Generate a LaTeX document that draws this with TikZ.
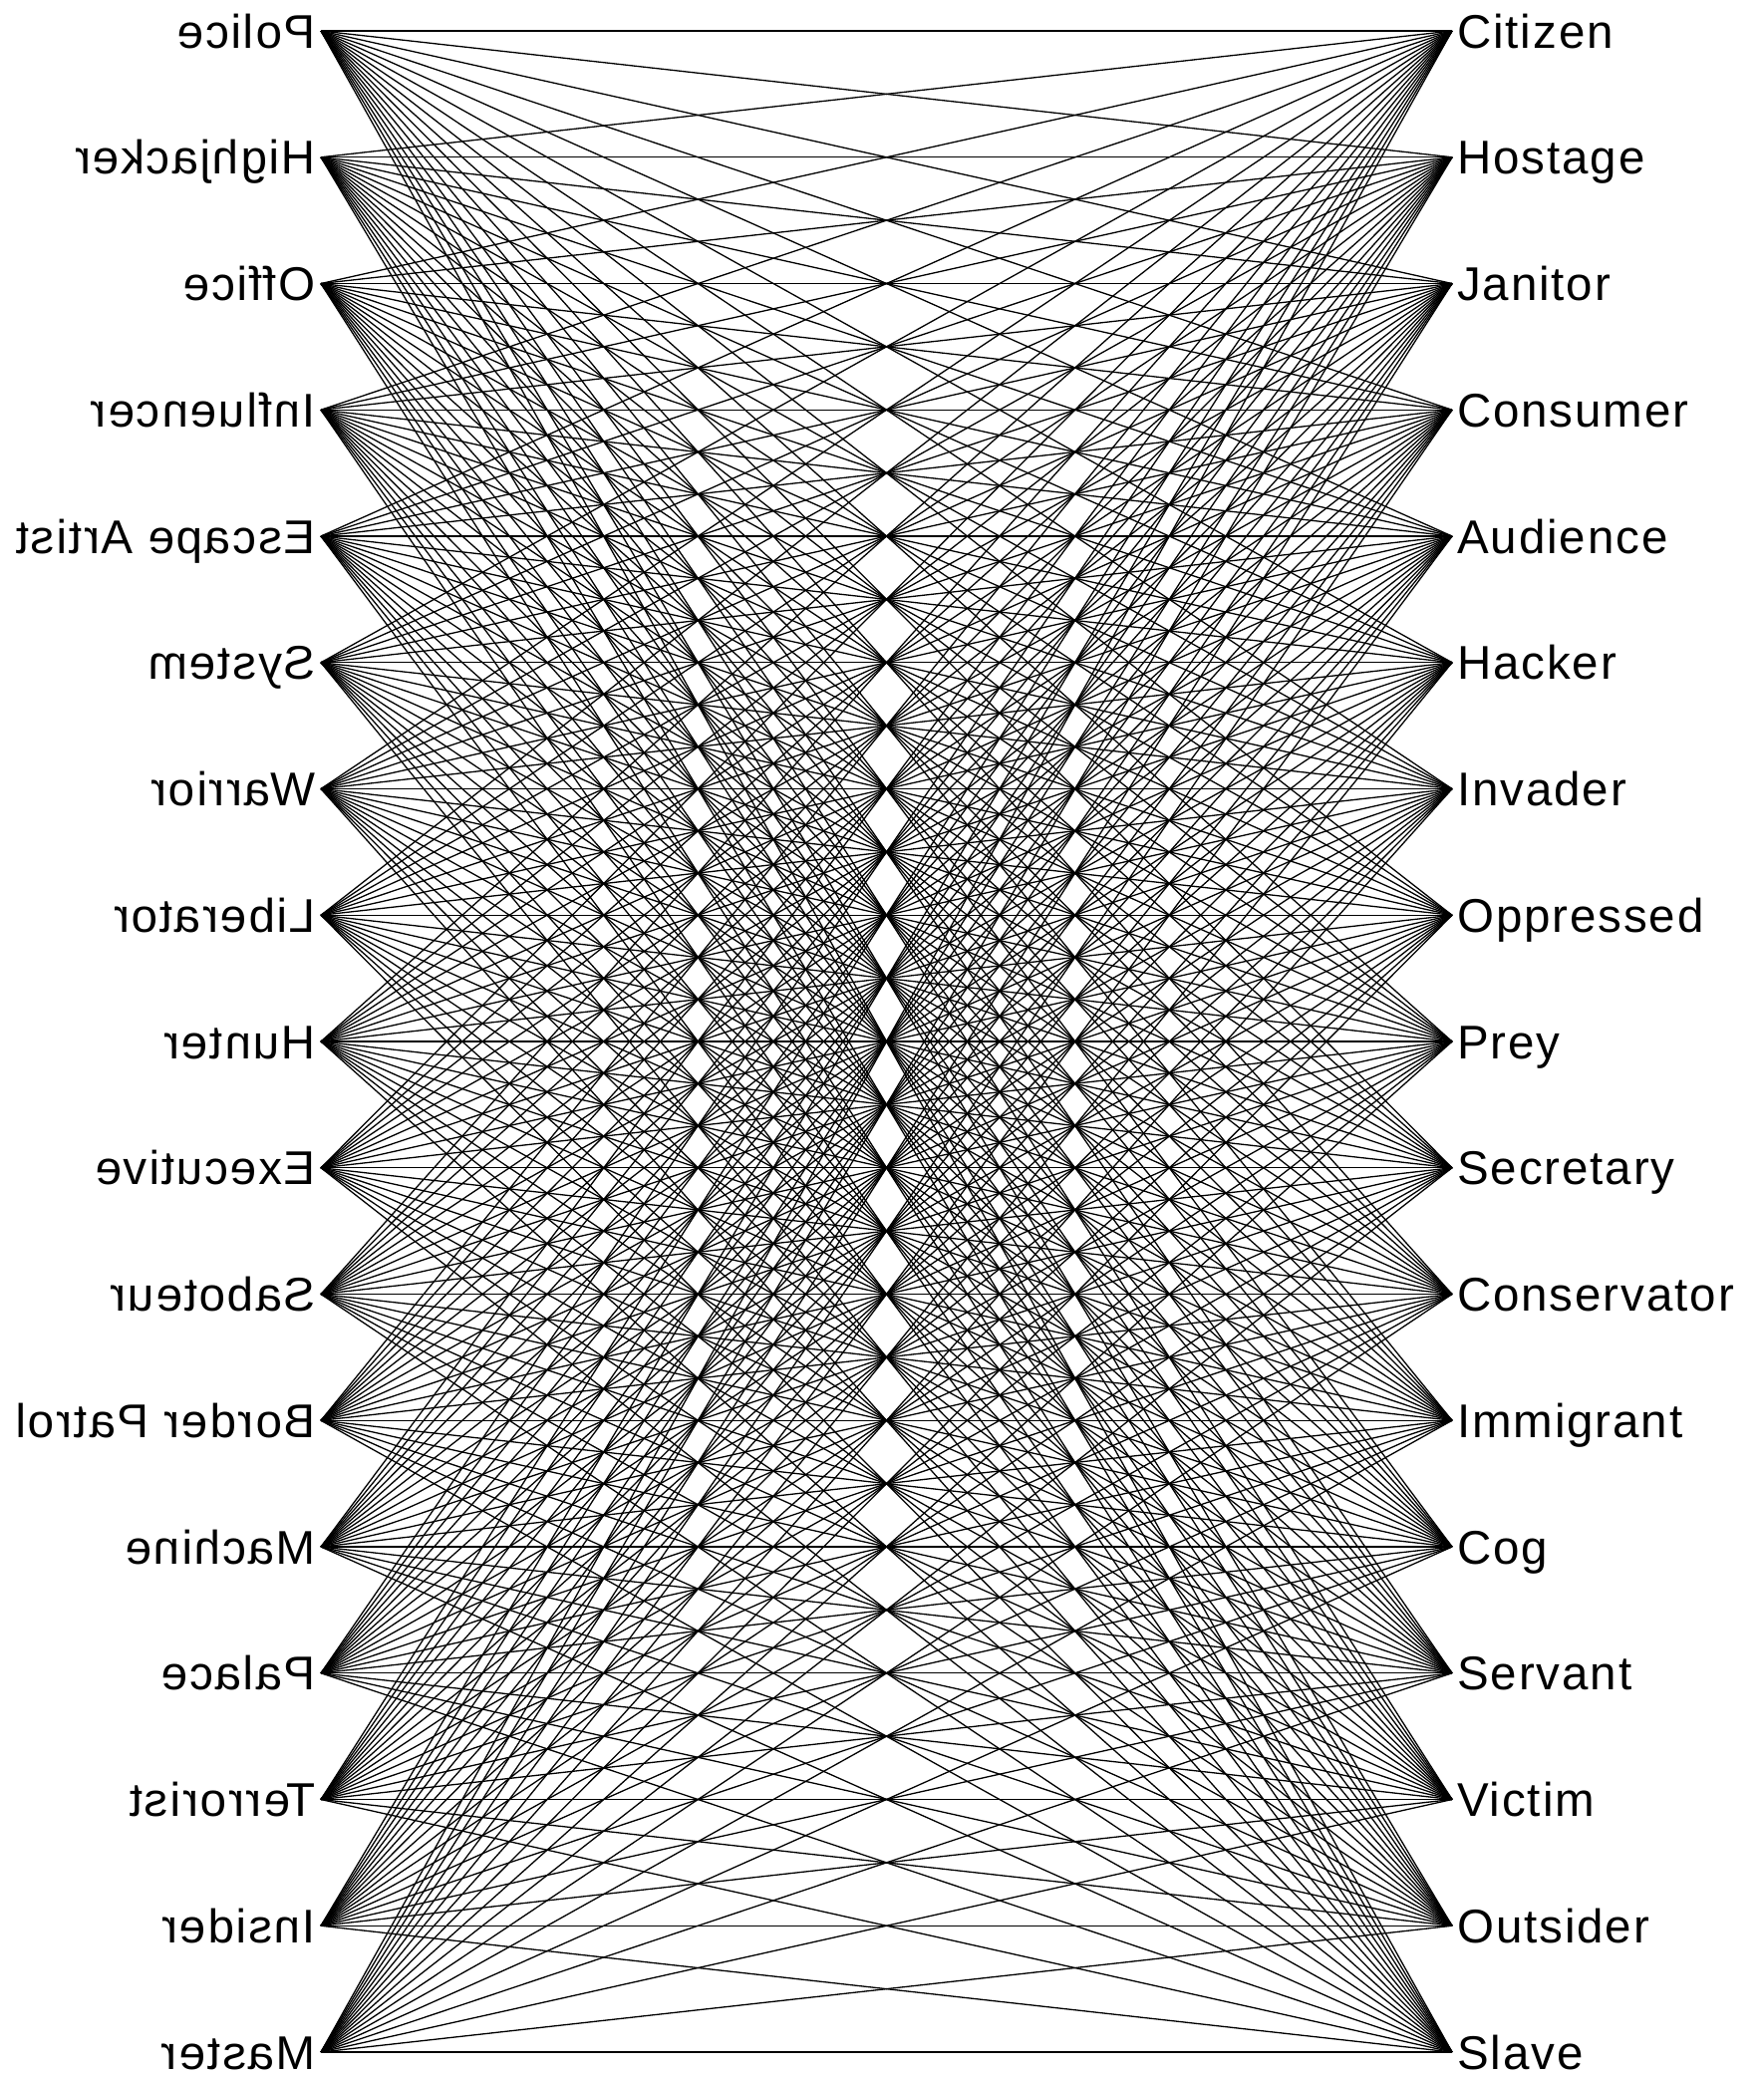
\documentclass[tikz,border=0pt]{standalone}
\usepackage{fontspec}
\setmainfont{Liberation Sans}[LetterSpace=4]
\begin{document}
\begin{tikzpicture}[x=1pt,y=-1pt,
  link/.style={line width=1.3pt,black},
  lab/.style={inner sep=0pt,font=\fontsize{47.5}{50}\selectfont}]
\useasboundingbox (0,0) rectangle (1770,2081);
\def\leftnames{Police,Highjacker,Office,Influencer,Escape Artist,System,Warrior,Liberator,Hunter,Executive,Saboteur,Border Patrol,Machine,Palace,Terrorist,Insider,Master}
\def\rightnames{Citizen,Hostage,Janitor,Consumer,Audience,Hacker,Invader,Oppressed,Prey,Secretary,Conservator,Immigrant,Cog,Servant,Victim,Outsider,Slave}
\foreach \t [count=\i] in \leftnames {
  \pgfmathsetmacro\yy{31+(\i-1)*126.75}
  \coordinate (L\i) at (322,\yy);
  \node[lab,anchor=base east] (LT\i) at (317,\yy+17) {\scalebox{-1}[1]{\t}};
}
\foreach \t [count=\i] in \rightnames {
  \pgfmathsetmacro\yy{31+(\i-1)*126.75}
  \coordinate (R\i) at (1457,\yy);
  \node[lab,anchor=base west] (RT\i) at (1462,\yy+17) {\t};
}
\foreach \i in {1,...,17} {
  \foreach \j in {1,...,17} {
    \draw[link] (L\i) -- (R\j);
  }
}
\end{tikzpicture}
\end{document}
